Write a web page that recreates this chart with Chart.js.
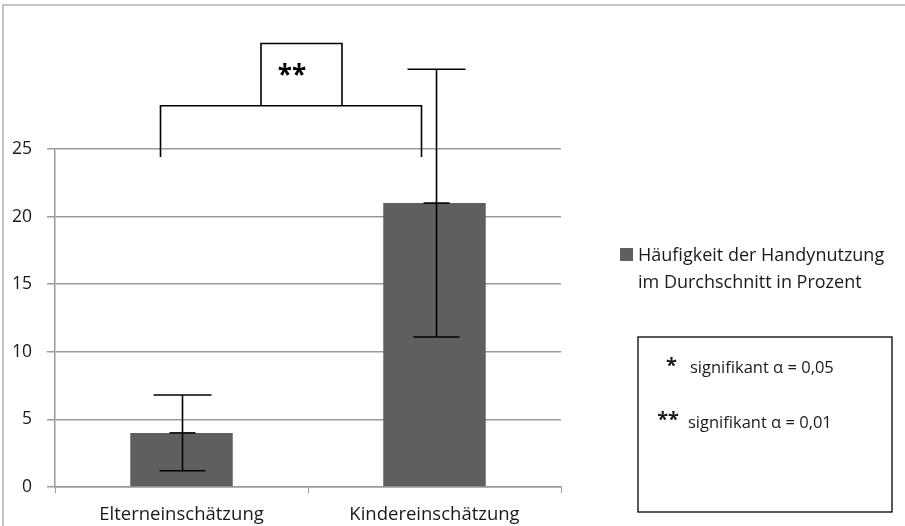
<!DOCTYPE html>
<html>
<head>
<meta charset="utf-8">
<script src="https://cdn.jsdelivr.net/npm/chart.js@4"></script>
<style>
    html, body { margin: 0; padding: 0; background: #fff; }
    #wrap { width: 905px; height: 526px; position: relative; }
</style>
</head>
<body>
<div id="wrap"><canvas id="chart" width="905" height="526"></canvas></div>
<script>
const categories = ['Elterneinschätzung', 'Kindereinschätzung'];
const means = [4, 21];
const errLow = [1.2, 11.1];
const errHigh = [6.8, 30.9];
const yTicks = [0, 5, 10, 15, 20, 25];
const seriesLabel = ['Häufigkeit der Handynutzung', 'im Durchschnitt in Prozent'];
const sigMark = '**';
const bracketLegs = 24.4;   // where the bracket legs end
const bracketTop = 28.2;
const sigBoxTop = 32.8;
const sigKey = [['*', 'signifikant α = 0,05'], ['**', 'signifikant α = 0,01']];

const FONT = '"Open Sans", sans-serif';
const BAR = '#5f5f5f';
const GRID = '#9a9a9a';
const TEXT = '#1a1a1a';

// error bars, significance bracket, legend and key box
const extras = {
    id: 'extras',
    beforeDraw(chart) {
        const ctx = chart.ctx;
        ctx.save();
        ctx.strokeStyle = '#c4c4c4';
        ctx.lineWidth = 2;
        ctx.beginPath();
        ctx.moveTo(3, chart.height);
        ctx.lineTo(3, 5);
        ctx.lineTo(chart.width, 5);
        ctx.stroke();
        ctx.restore();
    },
    afterDatasetsDraw(chart) {
        const ctx = chart.ctx;
        const x = chart.scales.x, y = chart.scales.y;
        const meta = chart.getDatasetMeta(0);
        ctx.save();
        ctx.strokeStyle = '#000';
        ctx.lineWidth = 1.6;

        const hline = (cx, v, w) => {
            ctx.beginPath();
            ctx.moveTo(cx - w / 2, y.getPixelForValue(v));
            ctx.lineTo(cx + w / 2, y.getPixelForValue(v));
            ctx.stroke();
        };

        meta.data.forEach((bar, i) => {
            const cx = bar.x + (i === 1 ? 2 : 1);
            ctx.beginPath();
            ctx.moveTo(cx, y.getPixelForValue(errLow[i]));
            ctx.lineTo(cx, y.getPixelForValue(errHigh[i]));
            ctx.stroke();
            hline(cx, errHigh[i], 58);
            hline(cx, errLow[i], 46);
            hline(cx, means[i], 26);
        });

        // bracket between the two groups
        const xl = x.getPixelForValue(0) - 21;
        const xr = x.getPixelForValue(1) - 13;
        const yb = y.getPixelForValue(bracketTop);
        const yl = y.getPixelForValue(bracketLegs);
        ctx.beginPath();
        ctx.moveTo(xl, yl);
        ctx.lineTo(xl, yb);
        ctx.lineTo(xr, yb);
        ctx.lineTo(xr, yl);
        ctx.stroke();

        const bx1 = 261, bx2 = 342;
        const yt = y.getPixelForValue(sigBoxTop);
        ctx.beginPath();
        ctx.moveTo(bx1, yb);
        ctx.lineTo(bx1, yt);
        ctx.lineTo(bx2, yt);
        ctx.lineTo(bx2, yb);
        ctx.stroke();

        ctx.fillStyle = '#000';
        ctx.font = 'bold 26px ' + FONT;
        ctx.textAlign = 'center';
        ctx.textBaseline = 'alphabetic';
        ctx.fillText(sigMark, 292, yt + 40);

        // series legend
        ctx.fillStyle = BAR;
        ctx.fillRect(620, 248, 13, 13);
        ctx.fillStyle = TEXT;
        ctx.font = '18px ' + FONT;
        ctx.textAlign = 'left';
        ctx.textBaseline = 'alphabetic';
        ctx.fillText(seriesLabel[0], 638, 261);
        ctx.fillText(seriesLabel[1], 638, 288);

        // significance key
        ctx.strokeStyle = '#000';
        ctx.lineWidth = 1.3;
        ctx.strokeRect(638, 337, 254, 175);
        ctx.font = 'bold 20px ' + FONT;
        ctx.textAlign = 'right';
        ctx.fillText(sigKey[0][0], 677, 372);
        ctx.fillText(sigKey[1][0], 679, 426);
        ctx.font = '16.5px ' + FONT;
        ctx.textAlign = 'left';
        ctx.fillText(sigKey[0][1], 690, 373);
        ctx.fillText(sigKey[1][1], 688, 428);
        ctx.restore();
    }
};

new Chart(document.getElementById('chart'), {
    type: 'bar',
    data: {
        labels: categories,
        datasets: [{
            label: seriesLabel.join(' '),
            data: means,
            backgroundColor: BAR,
            borderWidth: 0,
            barPercentage: 0.405,
            categoryPercentage: 1
        }]
    },
    options: {
        responsive: false,
        animation: false,
        events: [],
        layout: { padding: { top: 149, right: 344, left: 0, bottom: 0 } },
        plugins: { legend: { display: false }, tooltip: { enabled: false } },
        scales: {
            x: {
                grid: { drawOnChartArea: false, color: GRID, tickLength: 6, offset: true },
                border: { color: GRID, width: 1.5 },
                ticks: { color: TEXT, font: { family: FONT, size: 18.5 }, padding: 11, maxRotation: 0 },
                afterFit(scale) { scale.height = 39; }
            },
            y: {
                min: 0,
                max: 25,
                afterBuildTicks(scale) { scale.ticks = yTicks.map(v => ({ value: v })); },
                grid: { color: GRID, lineWidth: 1.5, tickLength: 8 },
                border: { color: GRID, width: 1.5 },
                ticks: { color: TEXT, font: { family: FONT, size: 17.5 }, padding: 15 },
                afterFit(scale) { scale.width = 55; }
            }
        }
    },
    plugins: [extras]
});
</script>
</body>
</html>
